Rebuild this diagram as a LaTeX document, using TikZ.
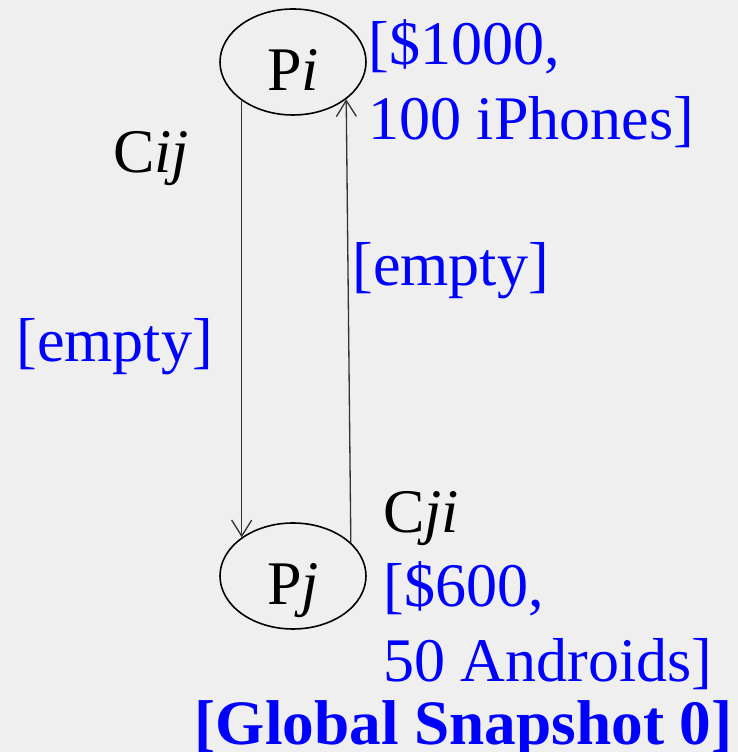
\documentclass[tikz,border=0pt]{standalone}
\usepackage{fontspec}
\setmainfont{Liberation Serif}
\usepackage{tikz}
\usetikzlibrary{arrows.meta,shapes.geometric}
\definecolor{SnapBlue}{HTML}{0000FF}
\definecolor{SnapBack}{HTML}{EFEFEF}
\tikzset{
  chanarrow/.style={-{Straight Barb[length=3.2mm,width=4mm]}, line width=0.75pt, draw=black!80},
  stateval/.style={text=SnapBlue, align=left, anchor=base west, inner sep=0pt},
  chanlabel/.style={anchor=base west, inner sep=0pt}
}

\begin{document}
\begin{tikzpicture}[
  font=\fontsize{35.3}{42.7}\selectfont,
  proc/.style={draw, ellipse, line width=0.9pt, minimum width=2.92cm, minimum height=2.12cm,
    inner sep=0pt, text height=1.14cm, text depth=0pt}
]
\fill[SnapBack] (0,0) rectangle (14.76,15.04);
\useasboundingbox (0,0) rectangle (14.76,15.04);

\node[proc] at (5.86,13.80) (Pi) {P\textit{i}};
\node[proc] at (5.86,3.52) (Pj) {P\textit{j}};

% channels
\node[chanlabel] at (2.26,11.58) (cij) {C\textit{ij}};
\node[chanlabel] at (7.66,4.38) (cji) {C\textit{ji}};

\draw[chanarrow] (Pi.217) -- (Pj.143);
\draw[chanarrow] (Pj.30.5) -- (Pi.325);

% recorded states (base = last line)
\node[stateval] at (7.36,12.24) (pistate) {[\$1000,\\100 iPhones]};
\node[stateval] at (7.66,1.40) (pjstate) {[\$600,\\50 Androids]};
\node[stateval] at (0.32,7.80) (cijstate) {[empty]};
\node[stateval] at (7.04,9.32) (cjistate) {[empty]};

\node[stateval, anchor=base east, font=\fontsize{36}{43}\selectfont\bfseries] at (14.66,0.14) (snap) {[Global Snapshot 0]};
\end{tikzpicture}
\end{document}
